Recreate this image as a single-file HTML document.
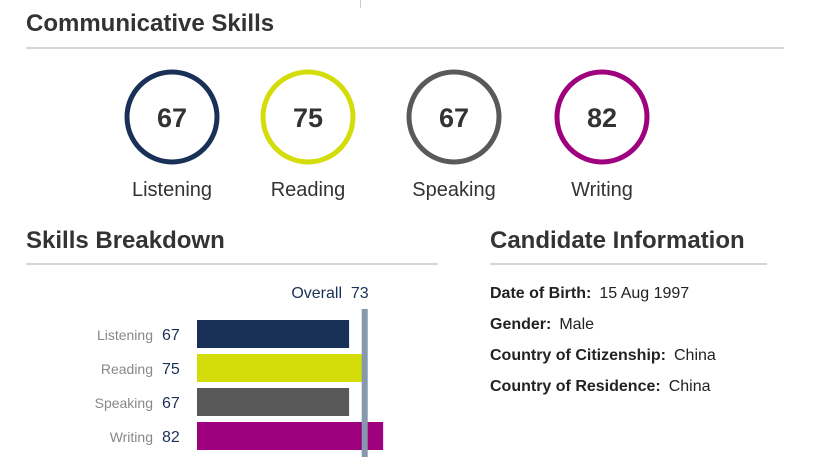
<!DOCTYPE html>
<html><head><meta charset="utf-8"><style>
body{margin:0;width:829px;height:476px;background:#fff;font-family:"Liberation Sans",sans-serif;overflow:hidden;position:relative}
.a{position:absolute;white-space:nowrap}
h2{margin:0;position:absolute;font-size:24px;font-weight:bold;color:#333;white-space:nowrap}
.hr{position:absolute;height:2px;background:#d6d6d6}
.info{position:absolute;left:490px;font-size:16px;color:#222}
.info b{margin-right:8px}
</style></head><body>
<div class="a" style="left:360px;top:0;width:1px;height:8px;background:#ccc"></div>
<h2 style="left:26px;top:10px">Communicative Skills</h2>
<div class="hr" style="left:26px;top:47px;width:758px"></div>
<svg id="circles" class="a" style="left:0;top:60px" width="829" height="150"></svg>
<h2 style="left:26px;top:227px">Skills Breakdown</h2>
<div class="hr" style="left:26px;top:263px;width:412px"></div>
<svg id="bars" class="a" style="left:0;top:270px" width="470" height="200"></svg>
<h2 style="left:490px;top:227px">Candidate Information</h2>
<div class="hr" style="left:490px;top:263px;width:277px"></div>
<div class="info" style="top:285px"><b>Date of Birth:</b>15 Aug 1997</div>
<div class="info" style="top:316px"><b>Gender:</b>Male</div>
<div class="info" style="top:347px"><b>Country of Citizenship:</b>China</div>
<div class="info" style="top:378px"><b>Country of Residence:</b>China</div>
<script>
const skills=["Listening","Reading","Speaking","Writing"];
const scores=[67,75,67,82];
const overall=[73];
const colors=["#1a3157","#d4dd0a","#595959","#9e007e"];
const NS="http://www.w3.org/2000/svg";
function mk(p,t,a){const e=document.createElementNS(NS,t);for(const k in a)e.setAttribute(k,a[k]);p.appendChild(e);return e;}
const cx=[172,308,454,602];
const cs=document.getElementById('circles');
skills.forEach((s,i)=>{
 const c=mk(cs,'circle',{cx:cx[i],cy:57,r:45,fill:'none',stroke:colors[i],'stroke-width':5});
 
 
 const t=mk(cs,'text',{x:cx[i],y:67,'text-anchor':'middle','font-size':27,'font-weight':'bold',fill:'#333'});t.textContent=scores[i];
 
 
 const l=mk(cs,'text',{x:cx[i],y:136,'text-anchor':'middle','font-size':20,fill:'#333'});l.textContent=s;
 
 
});
const bs=document.getElementById('bars');
const x0=197,k=2.27;
const xs=v=>x0+v*k;
skills.forEach((s,i)=>{
 const y=50+i*34;
 const r=mk(bs,'rect',{x:x0,y:y,width:xs(scores[i])-x0,height:28,fill:colors[i]});
 
 
 const l=mk(bs,'text',{x:153,y:y+20,'text-anchor':'end','font-size':14,fill:'#888'});l.textContent=s;
 
 
 const v=mk(bs,'text',{x:162,y:y+20,'font-size':16,fill:'#1a3157'});v.textContent=scores[i];
 
 
});
const ox=xs(overall[0])+2;
const ol=mk(bs,'rect',{x:ox-3,y:39,width:6,height:148,fill:'#8598ad'});


const ot=mk(bs,'text',{x:ox+4,y:28,'text-anchor':'end','font-size':16,fill:'#1a3157'});ot.textContent='Overall  '+overall[0];
ot.style.whiteSpace='pre';


</script>
</body></html>
